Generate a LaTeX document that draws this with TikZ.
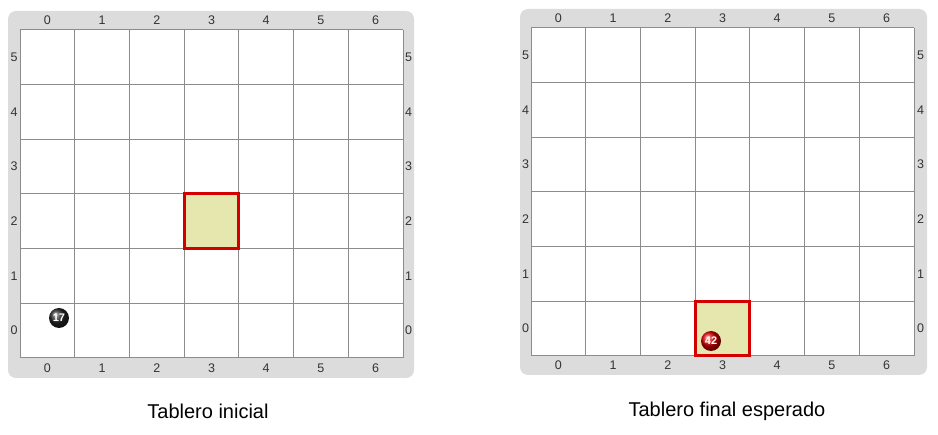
\documentclass[tikz,border=0pt]{standalone}
\usepackage{fontspec}
\setmainfont{Liberation Sans}
\definecolor{framegray}{HTML}{DCDCDC}
\definecolor{gridgray}{HTML}{8C8C8C}
\definecolor{labelgray}{HTML}{333333}
\definecolor{hlfill}{HTML}{E6E6AF}
\definecolor{hlred}{HTML}{D40000}
\tikzset{
  boardframe/.style={fill=framegray, rounded corners=8pt},
  gridline/.style={draw=gridgray, line width=1pt},
  coordlabel/.style={font=\fontsize{12.5}{12.5}\selectfont, text=labelgray, inner sep=0pt},
  hlcell/.style={fill=hlfill, draw=hlred, line width=3pt},
  caption/.style={font=\fontsize{20}{20}\selectfont, text=black, inner sep=0pt},
  balltext/.style={font=\bfseries\fontsize{11}{11}\selectfont, text=white, inner sep=0pt},
}
% #1 frame left, #2 frame top, #3 frame right, #4 frame bottom, #5 grid left, #6 grid top, #7 prefix
\newcommand\drawboard[7]{%
  \path[boardframe] (#1,#2) rectangle (#3,#4);
  \fill[white] (#5,#6) rectangle (#5+383,#6+328);
  \foreach \i in {0,...,7} {\draw[gridline] (#5+\i*383/7,#6) -- (#5+\i*383/7,#6+328);}
  \foreach \j in {0,...,6} {\draw[gridline] (#5,#6+\j*328/6) -- (#5+383,#6+\j*328/6);}
  \foreach \i in {0,...,6} {
    \node[coordlabel] (#7top\i) at (#5+\i*383/7+383/14,{(#2+#6)/2}) {\i};
    \node[coordlabel] (#7bot\i) at (#5+\i*383/7+383/14,{(#6+328+#4)/2}) {\i};
  }
  \foreach \j in {0,...,5} {
    \node[coordlabel] (#7left\j) at ({(#1+#5)/2},#6+328-\j*328/6-328/12) {\j};
    \node[coordlabel] (#7right\j) at ({(#5+383+#3)/2},#6+328-\j*328/6-328/12) {\j};
  }
}
\begin{document}
\begin{tikzpicture}[x=1pt,y=-1pt]
\useasboundingbox (0,0) rectangle (938,435);
% left board
\drawboard{8}{11}{414}{378}{20}{30}{L}
\draw[hlcell] (20+3*383/7,30+3*328/6) rectangle (20+4*383/7,30+4*328/6);
\node[circle, minimum size=20pt, inner sep=0pt, ball color=black!85, balltext] (ballA) at (59,318) {17};
% right board
\drawboard{520}{9}{927}{375}{531}{28}{R}
\draw[hlcell] (531+3*383/7,28+5*328/6) rectangle (531+4*383/7,28+6*328/6);
\node[circle, minimum size=20pt, inner sep=0pt, ball color=red!85!black, balltext] (ballB) at (711,341) {42};
% captions
\node[caption] (capL) at (208,411) {Tablero inicial};
\node[caption] (capR) at (727,411) {Tablero final esperado};
\end{tikzpicture}
\end{document}
